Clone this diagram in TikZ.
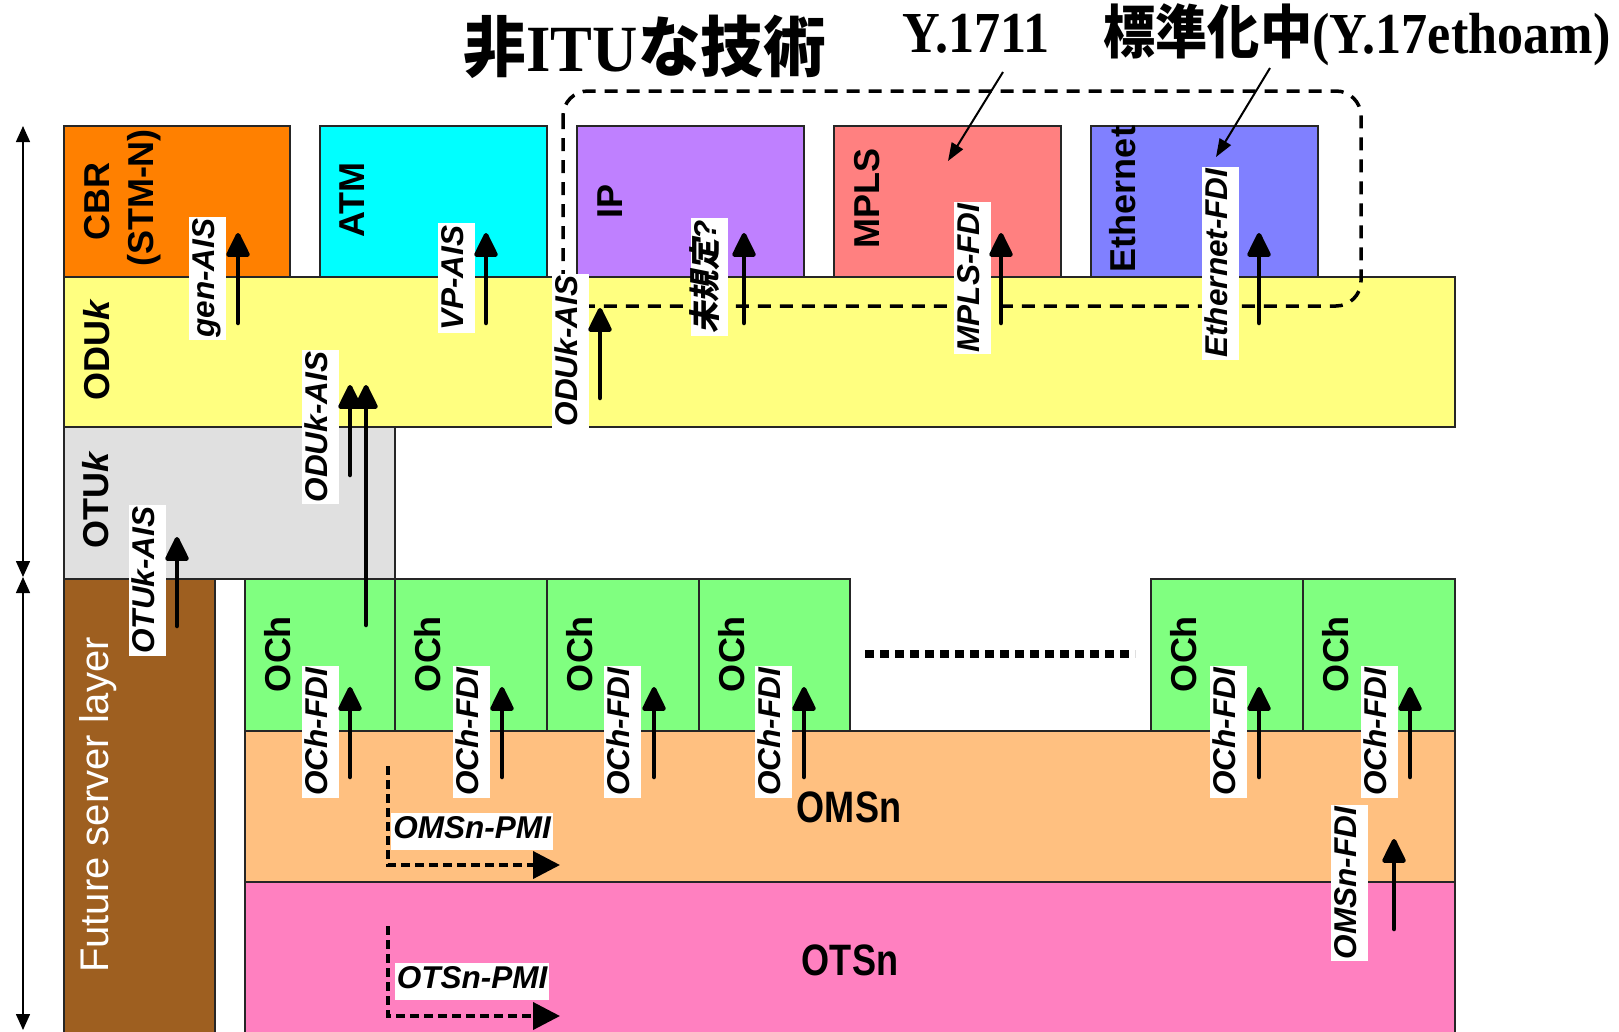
\documentclass[tikz,border=0pt]{standalone}
\usepackage{fontspec}
\usetikzlibrary{arrows.meta}
\setmainfont{Liberation Sans}
\newfontfamily\timesf{Liberation Serif}
\newfontfamily\cjkf{Noto Sans CJK JP}
\newfontfamily\cjksl[FakeSlant=0.2]{Noto Sans CJK JP}
\newcommand\myfs[1]{\fontsize{#1}{#1}\selectfont}
\definecolor{cbrc}{RGB}{255,128,0}
\definecolor{atmc}{RGB}{0,255,255}
\definecolor{ipc}{RGB}{191,128,255}
\definecolor{mplsc}{RGB}{255,128,128}
\definecolor{ethc}{RGB}{128,128,255}
\definecolor{oduc}{RGB}{255,255,128}
\definecolor{otuc}{RGB}{224,224,224}
\definecolor{brownc}{RGB}{158,95,32}
\definecolor{ochc}{RGB}{128,255,128}
\definecolor{omsc}{RGB}{255,192,128}
\definecolor{otsc}{RGB}{255,128,192}
\begin{document}
\begin{tikzpicture}[x=1pt,y=-1pt,
  box/.style={draw=black!85, line width=1.2pt},
  boxlab/.style={rotate=90, inner sep=0pt, text height=26pt, text depth=0pt, font=\myfs{36}\bfseries},
  lab/.style={rotate=90, fill=white, inner xsep=2pt, inner ysep=3pt, text height=23pt, text depth=8pt, font=\myfs{31.5}\bfseries\itshape},
  hlab/.style={fill=white, inner xsep=2pt, inner ysep=3pt, text height=23pt, text depth=8pt, font=\myfs{31.5}\bfseries\itshape},
  bigarr/.style={line width=4.5pt, line cap=round, -{Triangle[width=25pt,length=27pt,round]}},
  pmiarr/.style={line width=4pt, dash pattern=on 9pt off 5pt, -{Triangle[width=27pt,length=27pt]}},
  dimarr/.style={line width=1.5pt, {Triangle[width=14pt,length=16pt]}-{Triangle[width=14pt,length=16pt]}},
  callarr/.style={line width=2pt, -{Triangle[width=13pt,length=18pt]}},
  dashbox/.style={line width=3.5pt, dash pattern=on 13pt off 9pt, rounded corners=25pt},
  dotline/.style={line width=8pt, dash pattern=on 9pt off 6pt},
]
\useasboundingbox (0,0) rectangle (1619,1031);
\fill[white] (0,0) rectangle (1619,1031);

% ---- layer boxes ----
\path[box, fill=cbrc]  (64,126) rectangle (290,277);
\path[box, fill=atmc]  (320,126) rectangle (547,277);
\path[box, fill=ipc]   (577,126) rectangle (804,277);
\path[box, fill=mplsc] (834,126) rectangle (1061,277);
\path[box, fill=ethc]  (1091,126) rectangle (1318,277);
\path[box, fill=oduc]  (64,277) rectangle (1455,427);
\path[box, fill=otuc]  (64,427) rectangle (395,579);
\path[box, fill=brownc] (64,579) rectangle (215,1045);
\path[box, fill=omsc]  (245,731) rectangle (1455,882);
\path[box, fill=otsc]  (245,882) rectangle (1455,1045);
\foreach \l/\r/\n in {245/395/1,395/547/2,547/699/3,699/850/4,1151/1303/5,1303/1455/6} {
  \path[box, fill=ochc] (\l,579) rectangle (\r,731);
  \node[boxlab] (och\n) at (\l+32,654) {OCh};
}

% ---- box labels ----
\node[boxlab] (cbr) at (96,201) {CBR};
\node[boxlab] (stmn) at (140,198) {(STM-N)};
\node[boxlab] (atm) at (351,200) {ATM};
\node[boxlab] (ip) at (609,201) {IP};
\node[boxlab] (mpls) at (866,198) {MPLS};
\node[boxlab] (eth) at (1122,199) {Ethernet};
\node[boxlab] (oduk) at (96,350) {ODU\textit{k}};
\node[boxlab] (otuk) at (95,500) {OTU\textit{k}};
\node[rotate=90, inner sep=0pt, text height=29pt, text depth=0pt, font=\myfs{40}, text=white] (fsl) at (94,805) {Future server layer};
\node[inner sep=0pt, text height=31pt, text depth=0pt, font=\myfs{44}\bfseries, xscale=0.82] (omsn) at (849,807) {OMSn};
\node[inner sep=0pt, text height=31pt, text depth=0pt, font=\myfs{44}\bfseries, xscale=0.82] (otsn) at (850,960) {OTSn};

% ---- dotted continuation ----
\coordinate (dotA) at (865,654);
\coordinate (dotB) at (1135,654);
\draw[dotline] (dotA) -- (dotB);

% ---- non-ITU dashed frame ----
\draw[dashbox] (563,91) rectangle (1361,306);

% ---- titles ----
\node[anchor=base, font=\myfs{66}\bfseries, xscale=0.95] (title) at (645,71) {{\cjkf 非}{\timesf ITU}{\cjkf な技術}};
\node[anchor=base, font=\myfs{58}\bfseries\timesf, xscale=0.9] (y1711) at (976,52) {Y.1711};
\node[anchor=base, font=\myfs{58}\bfseries, xscale=0.9] (ethoam) at (1357,53) {{\cjkf 標準化中}{\timesf (Y.17ethoam)}};
\coordinate (c1s) at (1003,72);
\coordinate (c1e) at (948,161);
\coordinate (c2s) at (1270,68);
\coordinate (c2e) at (1216,157);
\draw[callarr] (c1s) -- (c1e);
\draw[callarr] (c2s) -- (c2e);

% ---- dimension arrows ----
\coordinate (d1) at (23,126);
\coordinate (d2) at (23,577);
\coordinate (d3) at (23,1030);
\draw[dimarr] (d1) -- (d2);
\draw[dimarr] (d2) -- (d3);

% ---- defect labels ----
\node[lab] (genais) at (207,278) {gen-AIS};
\node[lab] (vpais) at (456,278) {VP-AIS};
\node[lab] (unspec) at (709,277) {{\cjksl\upshape 未規定}?};
\node[lab] (mplsfdi) at (972,278) {MPLS-FDI};
\node[lab] (ethfdi) at (1220,263) {Ethernet-FDI};
\node[lab] (oduais2) at (570,351) {ODUk-AIS};
\node[lab] (oduais1) at (320,427) {ODUk-AIS};
\node[lab] (otuais) at (147,580) {OTUk-AIS};
\node[lab] (omsfdi) at (1349,883) {OMSn-FDI};
\node[hlab] (omspmi) at (472,831) {OMSn-PMI};
\node[hlab] (otspmi) at (472,981) {OTSn-PMI};

% ---- defect arrows ----
\foreach \x/\n in {238/gen,486/vp,744/un,1001/mp,1259/et} {
  \coordinate (\n A) at (\x,323);
  \coordinate (\n B) at (\x,233);
  \draw[bigarr] (\n A) -- (\n B);
}
\coordinate (odA) at (600,398); \coordinate (odB) at (600,308);
\draw[bigarr] (odA) -- (odB);
\coordinate (oaA) at (350,475); \coordinate (oaB) at (350,385);
\draw[bigarr] (oaA) -- (oaB);
\coordinate (obA) at (366,625); \coordinate (obB) at (366,385);
\draw[bigarr] (obA) -- (obB);
\coordinate (otA) at (177,626); \coordinate (otB) at (177,537);
\draw[bigarr] (otA) -- (otB);
\coordinate (omA) at (1394,929); \coordinate (omB) at (1394,839);
\draw[bigarr] (omA) -- (omB);
\foreach \lx/\ax/\n in {320/350/1,471/502/2,622/654/3,773/804/4,1228/1259/5,1379/1410/6} {
  \node[lab] (ochfdi\n) at (\lx,732) {OCh-FDI};
  \coordinate (ochA\n) at (\ax,777);
  \coordinate (ochB\n) at (\ax,687);
  \draw[bigarr] (ochA\n) -- (ochB\n);
}
\coordinate (pmA) at (388,766); \coordinate (pmB) at (560,865);
\draw[pmiarr] (pmA) |- (pmB);
\coordinate (ptA) at (388,926); \coordinate (ptB) at (560,1016);
\draw[pmiarr] (ptA) |- (ptB);
\end{tikzpicture}
\end{document}
